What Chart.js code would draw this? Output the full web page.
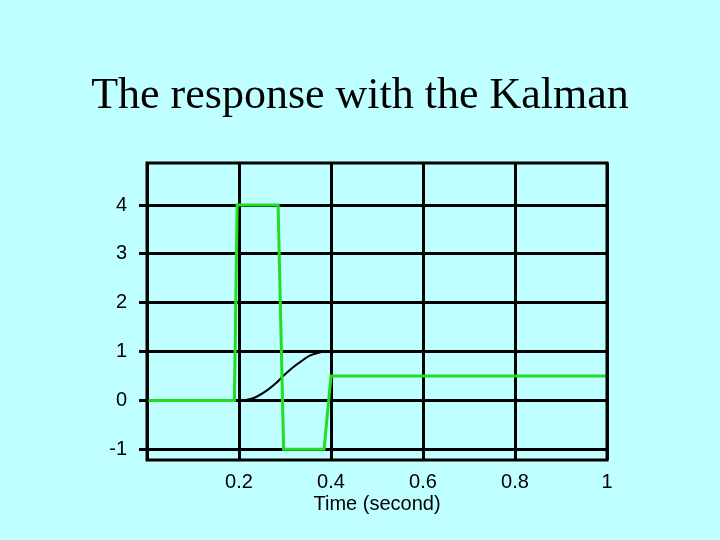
<!DOCTYPE html>
<html><head><meta charset="utf-8">
<script src="https://cdn.jsdelivr.net/npm/chart.js@4"></script>
<style>
html,body{margin:0;padding:0;background:#C0FFFF;}
#wrap{position:relative;width:720px;height:540px;}
#title{position:absolute;top:68px;left:0;width:720px;text-align:center;font-family:"Liberation Serif",serif;font-size:44px;color:#000;}
</style></head><body>
<div id="wrap"><div id="title">The response with the Kalman</div><canvas id="c" width="720" height="540"></canvas></div>
<script>
const greenX = [0, 0.19, 0.196, 0.285, 0.297, 0.385, 0.4, 1];
const greenY = [0, 0, 4, 4, -1, -1, 0.5, 0.5];
const blackX = [0.2, 0.215, 0.235, 0.26, 0.28, 0.296, 0.315, 0.335, 0.355, 0.375, 0.39];
const blackY = [0, 0.01, 0.06, 0.2, 0.35, 0.5, 0.66, 0.8, 0.92, 0.98, 1];
const xTicks = [0, 0.2, 0.4, 0.6, 0.8, 1];
const yTicks = [-1, 0, 1, 2, 3, 4];
const xTickLabels = ['', '0.2', '0.4', '0.6', '0.8', '1'];
const font = {family:'"Liberation Sans", Arial, sans-serif', size:20};
const frame = {id:'frame', afterDraw(c){const a=c.chartArea,x=c.ctx;x.save();x.strokeStyle='#000';x.lineWidth=3;x.strokeRect(a.left,a.top,a.right-a.left,a.bottom-a.top);x.restore();}};
new Chart(document.getElementById('c'), {
  type:'line',
  data:{datasets:[
    {data:greenX.map((x,i)=>({x,y:greenY[i]})), borderColor:'#22DD22', borderWidth:3, pointRadius:0, tension:0},
    {data:blackX.map((x,i)=>({x,y:blackY[i]})), borderColor:'#000', borderWidth:2, pointRadius:0, tension:0.3}
  ]},
  options:{responsive:false, animation:false,
    layout:{padding:{left:100,right:113,top:163,bottom:20}},
    plugins:{legend:{display:false},tooltip:{enabled:false}},
    scales:{
      x:{type:'linear',min:0,max:1,
        afterBuildTicks(s){s.ticks=xTicks.map(v=>({value:v}));},
        afterFit(s){s.height=60;},
        ticks:{color:'#000',font,padding:10,callback:(v,i)=>xTickLabels[i],maxRotation:0},
        grid:{color:'#000',lineWidth:3,drawTicks:false},border:{display:false},
        title:{display:true,text:'Time (second)',color:'#000',font,padding:{top:3}}},
      y:{min:-1.22,max:4.86,
        afterBuildTicks(s){s.ticks=yTicks.map(v=>({value:v}));},
        afterFit(s){s.width=47;},
        ticks:{color:'#000',font,padding:12},
        grid:{color:'#000',lineWidth:3,drawTicks:true,tickLength:8},border:{display:false}}
    }},
  plugins:[frame]
});
</script></body></html>
